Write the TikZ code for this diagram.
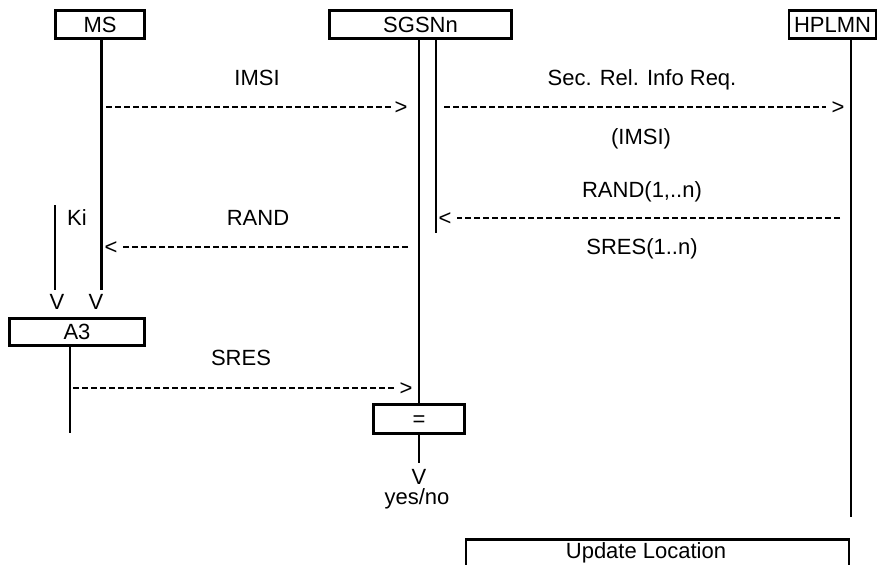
\documentclass[tikz,border=0pt]{standalone}
\usepackage{fontspec}
\setmainfont{Liberation Sans}

\begin{document}
\begin{tikzpicture}[x=0.5pt, y=-0.5pt,
    every node/.style={font=\fontsize{11}{13}\selectfont, inner sep=0pt, text height=7.9pt, text depth=0pt},
    entity/.style={draw, line width=1.3pt, minimum height=14.2pt},
    life/.style={line width=1.3pt},
    msg/.style={line width=0.7pt, dash pattern=on 2.8pt off 1.7pt}]
        \clip (0,0) rectangle (878,564);
        \node[entity, minimum width=44.5pt] (ms) at (100,24.5) {MS};
        \node[entity, minimum width=91pt] (sgsn) at (420.5,24.5) {SGSNn};
        \node[entity, minimum width=43.5pt] (hplmn) at (832.5,24.5) {HPLMN};
        \node[entity, minimum width=67.7pt, minimum height=13.7pt] (a3) at (77,332) {A3};
        \node[entity, minimum width=45.7pt, minimum height=14.7pt] (eq) at (419,419) {=};
        \node[entity, minimum width=191.5pt, minimum height=20pt, anchor=north] (upd) at (657.5,538) {};
        \node (updlbl) at (646,551) {Update Location};
        \coordinate (msend) at (101.5,290);
        \coordinate (kitop) at (55,205);
        \coordinate (kiend) at (55,290);
        \coordinate (sgsnend) at (436,233);
        \coordinate (eqend) at (419,463);
        \coordinate (hplmnend) at (851,517);
        \coordinate (a3end) at (70,433);
        \draw[life] (msend |- ms.south) -- (msend);
        \draw[life] (kitop) -- (kiend);
        \draw[life] (eq.north |- sgsn.south) -- (eq.north);
        \draw[life] (sgsnend |- sgsn.south) -- (sgsnend);
        \draw[life] (eq.south) -- (eqend);
        \draw[life] (hplmnend |- hplmn.south) -- (hplmnend);
        \draw[life] (a3end |- a3.south) -- (a3end);
        \node (imsi) at (257,78) {IMSI};
        \node (imsitip) at (401,107) {>};
        \coordinate (imsifrom) at (106,107);
        \draw[msg, shorten >=1.5pt] (imsifrom) -- (imsitip.west);
        \node (secrel) at (642,78) {Sec. Rel. Info Req.};
        \node (secreltip) at (838,107) {>};
        \coordinate (secrelfrom) at (444,107);
        \draw[msg, shorten >=2.5pt] (secrelfrom) -- (secreltip.west);
        \node (imsipar) at (641,137) {(IMSI)};
        \node (randn) at (642,190) {RAND(1,..n)};
        \node (randntip) at (445,218) {<};
        \coordinate (randnfrom) at (840,218);
        \draw[msg, shorten >=2.5pt] (randnfrom) -- (randntip.east);
        \node (sresn) at (642,247) {SRES(1..n)};
        \node (ki) at (77,218) {Ki};
        \node (rand) at (258,218) {RAND};
        \node (randtip) at (111,247) {<};
        \coordinate (randfrom) at (408,247);
        \draw[msg, shorten >=1.5pt] (randfrom) -- (randtip.east);
        \node (kiv) at (57,302) {V};
        \node (msv) at (96,302) {V};
        \node (sres) at (241,358) {SRES};
        \node (srestip) at (406,388) {>};
        \coordinate (sresfrom) at (73,388);
        \draw[msg, shorten >=1.5pt] (sresfrom) -- (srestip.west);
        \node (eqv) at (419,477) {V};
        \node (yesno) at (417,497) {yes/no};
      \end{tikzpicture}
\end{document}
